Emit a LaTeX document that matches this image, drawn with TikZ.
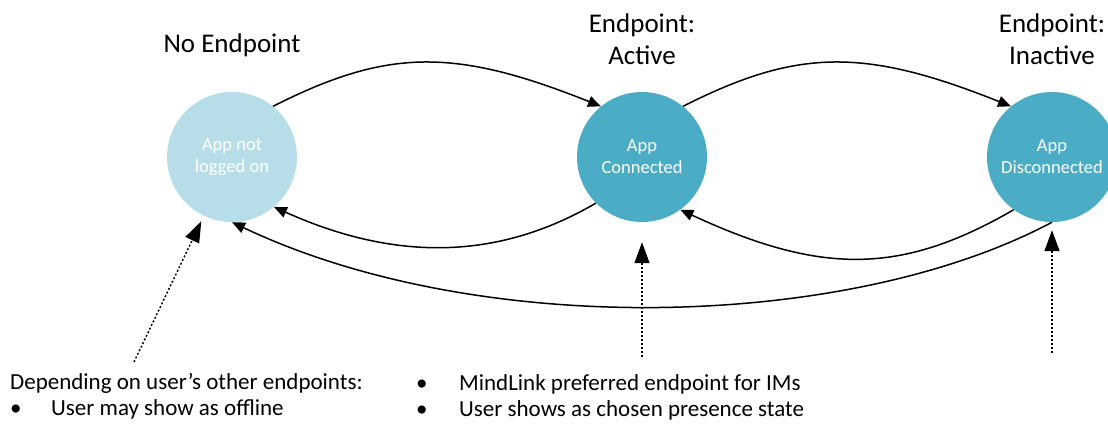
\documentclass[tikz,border=0pt]{standalone}
\usepackage{fontspec}
\setmainfont{Carlito}
\usetikzlibrary{arrows.meta}
\definecolor{paleblue}{HTML}{B7DEE8}
\definecolor{tealblue}{HTML}{4BACC6}
\tikzset{state/.style={circle,minimum size=130pt,inner sep=0pt,text=white,align=center,font=\fontsize{18.5}{22}\selectfont},
  title/.style={align=center,anchor=base,font=\fontsize{27}{32}\selectfont},
  note/.style={align=left,anchor=base west,inner sep=0pt,font=\fontsize{23}{26}\selectfont},
  move/.style={line width=1.5pt,-{Triangle[length=13pt,width=11pt]}},
  hint/.style={line width=1.4pt,dash pattern=on 2pt off 2pt,-{Triangle[length=21pt,width=15pt]}}}

\begin{document}
\begin{tikzpicture}[x=1pt,y=-1pt]
      \useasboundingbox (0,0) rectangle (1108,423);
      \clip (0,0) rectangle (1108,423);

      \node[state,fill=paleblue] (N) at (232,157) {App not\\logged on};
      \node[state,fill=tealblue] (C) at (642,157) {App\\Connected};
      \node[state,fill=tealblue] (D) at (1052,157) {App\\Disconnected};

      % base anchor sits on the last line
      \node[title] (tN) at (232,52) {No Endpoint};
      \node[title] (tC) at (642,64) {Endpoint:\\Active};
      \node[title] (tD) at (1052,64) {Endpoint:\\Inactive};

      \node[note] (nN) at (10,415) {Depending on user’s other endpoints:\\\makebox[41pt][l]{\textbullet}User may show as offline};
      \node[note] (nC) at (416,416) {\makebox[43pt][l]{\textbullet}MindLink preferred endpoint for IMs\\\makebox[43pt][l]{\textbullet}User shows as chosen presence state};

      \coordinate (fN) at (134,362);
      \coordinate (fC) at (642,357);
      \coordinate (fD) at (1052,353);

      \draw[move] (N.51) .. controls (388,48) and (455,48) .. (C.129);
      \draw[move] (C.51) .. controls (798,48) and (865,48) .. (D.129);
      \draw[move] (C.225) .. controls (497,261) and (394,261) .. (N.310);
      \draw[move] (D.234) .. controls (901,275) and (821,275) .. (C.306);
      \draw[move] (D.south) .. controls (850,330) and (480,340) .. (N.south);

      \draw[hint,shorten >=6pt] (fN) -- (N);
      \draw[hint,shorten >=20pt] (fC) -- (C);
      \draw[hint,shorten >=8pt] (fD) -- (D);
    \end{tikzpicture}
\end{document}
